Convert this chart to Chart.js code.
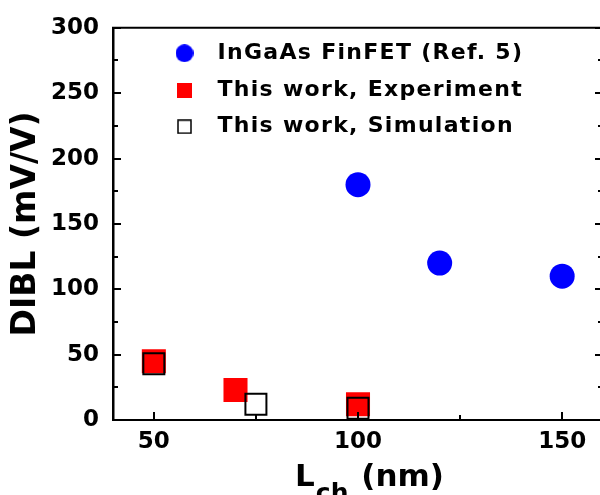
<!DOCTYPE html>
<html>
<head>
<meta charset="utf-8">
<script src="https://cdn.jsdelivr.net/npm/chart.js@4.4.1/dist/chart.umd.min.js"></script>
<style>
  html, body { margin: 0; padding: 0; background: #fff; overflow: hidden; }
  #wrap { width: 600px; height: 495px; overflow: hidden; }
  #wrap canvas { display: block; }
</style>
</head>
<body>
<div id="wrap"><canvas id="diblChart" width="620" height="495"></canvas></div>
<script>
// --- Data ---
const refLch = [100, 120, 150];
const refDibl = [180, 120, 110];
const expLch = [50, 70, 100];
const expDibl = [45, 23, 12];
const simLch = [50, 75, 100];
const simDibl = [43, 12, 9];
const seriesLabels = ['InGaAs FinFET (Ref. 5)', 'This work, Experiment', 'This work, Simulation'];

// Tick values (majors get a label, minors only a short tick)
const xTickValues = [50, 75, 100, 125, 150];
const yTickValues = [0, 25, 50, 75, 100, 125, 150, 175, 200, 225, 250, 275, 300];
const xMajorStep = 50;
const yMajorStep = 50;
const xTitleMain = 'L';
const xTitleSub = 'ch';
const xTitleUnit = ' (nm)';
const yTitle = 'DIBL (mV/V)';

const FONT = '"DejaVu Sans"';

function toPoints(xs, ys) {
    return xs.map((v, i) => ({ x: v, y: ys[i] }));
}

// small canvases used as legend markers (drawn at their own size)
function markerCanvas(size, draw) {
    const c = document.createElement('canvas');
    c.width = size; c.height = size;
    draw(c.getContext('2d'), size);
    return c;
}
const legendMarkers = [
    markerCanvas(18, (g, s) => { g.fillStyle = '#0000ff'; g.beginPath(); g.arc(s / 2, s / 2, s / 2, 0, Math.PI * 2); g.fill(); }),
    markerCanvas(15, (g, s) => { g.fillStyle = '#ff0000'; g.fillRect(0, 0, s, s); }),
    markerCanvas(15, (g, s) => { g.fillStyle = '#fff'; g.fillRect(0, 0, s, s); g.strokeStyle = '#000'; g.lineWidth = 1.5; g.strokeRect(1, 1, s - 2, s - 2); })
];

// --- Plugins ---
// move the legend to its spot inside the plot, and space its letters out
const legendTweak = {
    id: 'legendTweak',
    afterInit(chart) {
        const lg = chart.legend;
        const origDraw = lg.draw;
        lg.draw = function (area) {
            const ctx = this.ctx;
            ctx.save();
            ctx.letterSpacing = '1.3px';
            origDraw.call(this, area);
            ctx.restore();
        };
    },
    afterLayout(chart) {
        const lg = chart.legend;
        const dx = 34.75, dy = 27.5;
        lg.left += dx; lg.right += dx;
        lg.top += dy; lg.bottom += dy;
    }
};

// top/right frame and inward tick marks
const frameAndTicks = {
    id: 'frameAndTicks',
    afterDatasetsDraw(chart) {
        const { ctx, chartArea: a, scales: { x, y } } = chart;
        ctx.save();
        ctx.strokeStyle = '#000';
        ctx.lineWidth = 2;
        ctx.beginPath();
        ctx.moveTo(a.left - 1, a.top);
        ctx.lineTo(a.right, a.top);
        ctx.lineTo(a.right, a.bottom);
        ctx.stroke();

        ctx.beginPath();
        xTickValues.forEach(v => {
            const px = Math.round(x.getPixelForValue(v));
            const len = v % xMajorStep === 0 ? 8 : 5;
            ctx.moveTo(px, a.bottom);
            ctx.lineTo(px, a.bottom - len);
        });
        yTickValues.forEach(v => {
            const py = Math.round(y.getPixelForValue(v));
            const len = v % yMajorStep === 0 ? 8 : 5;
            ctx.moveTo(a.left, py);
            ctx.lineTo(a.left + len, py);
            ctx.moveTo(a.right, py);
            ctx.lineTo(a.right - len, py);
        });
        ctx.stroke();
        ctx.restore();
    }
};

// x-axis title with a subscript
const xTitlePlugin = {
    id: 'xTitlePlugin',
    afterDraw(chart) {
        const { ctx } = chart;
        const xs = chart.scales.x;
        const mainFont = 'bold 31px ' + FONT;
        const subFont = 'bold 25px ' + FONT;
        ctx.save();
        ctx.fillStyle = '#000';
        ctx.textAlign = 'left';
        ctx.textBaseline = 'alphabetic';
        ctx.font = mainFont;
        const wMain = ctx.measureText(xTitleMain).width;
        const wUnit = ctx.measureText(xTitleUnit).width;
        ctx.font = subFont;
        const wSub = ctx.measureText(xTitleSub).width;
        const total = wMain + wSub + wUnit;
        const baseY = xs.top + 66;
        let cx = (xs.left + xs.right) / 2 + 10 - total / 2;
        ctx.font = mainFont;
        ctx.fillText(xTitleMain, cx, baseY);
        cx += wMain + 1;
        ctx.font = subFont;
        ctx.fillText(xTitleSub, cx, baseY + 15);
        cx += wSub + 2;
        ctx.font = mainFont;
        ctx.fillText(xTitleUnit, cx, baseY);
        ctx.restore();
    }
};

// --- Chart ---
const tickFont = { family: FONT, size: 23, weight: 'bold' };

const ctx = document.getElementById('diblChart').getContext('2d');
const myChart = new Chart(ctx, {
    type: 'scatter',
    data: {
        datasets: [{
            label: seriesLabels[0],
            data: toPoints(refLch, refDibl),
            pointStyle: 'circle',
            pointRadius: 12.5,
            pointHoverRadius: 12.5,
            backgroundColor: '#0000ff',
            borderColor: '#0000ff',
            borderWidth: 0,
            order: 2
        }, {
            label: seriesLabels[1],
            data: toPoints(expLch, expDibl),
            pointStyle: 'rect',
            pointRadius: 17,
            pointHoverRadius: 17,
            backgroundColor: '#ff0000',
            borderColor: '#ff0000',
            borderWidth: 0,
            order: 1
        }, {
            label: seriesLabels[2],
            data: toPoints(simLch, simDibl),
            pointStyle: 'rect',
            pointRadius: 14.85,
            pointHoverRadius: 14.85,
            backgroundColor: 'rgba(0,0,0,0)',
            borderColor: '#000000',
            borderWidth: 2,
            order: 0
        }]
    },
    options: {
        responsive: false,
        animation: false,
        events: [],
        layout: { padding: { left: 0, top: 24, right: 17, bottom: 0 } },
        scales: {
            x: {
                type: 'linear',
                position: 'bottom',
                min: 40, max: 160,
                afterBuildTicks: s => { s.ticks = xTickValues.map(v => ({ value: v })); },
                afterFit: s => { s.height = 75; },
                grid: { display: false, drawTicks: false },
                border: { display: true, color: '#000', width: 2 },
                ticks: {
                    autoSkip: false, maxRotation: 0, padding: 8,
                    color: '#000', font: tickFont,
                    callback: v => (v % xMajorStep === 0 ? String(v) : '')
                }
            },
            y: {
                type: 'linear',
                min: 0, max: 300,
                afterBuildTicks: s => { s.ticks = yTickValues.map(v => ({ value: v })); },
                afterFit: s => { s.width = 113; },
                grid: { display: false, drawTicks: false },
                border: { display: true, color: '#000', width: 2.5 },
                ticks: {
                    autoSkip: false, padding: 14,
                    color: '#000', font: tickFont,
                    callback: v => (v % yMajorStep === 0 ? String(v) : '')
                },
                title: {
                    display: true, text: yTitle, color: '#000',
                    font: { family: FONT, size: 33, weight: 'bold' },
                    padding: { top: 7, bottom: 0 }
                }
            }
        },
        plugins: {
            legend: {
                display: true,
                position: 'chartArea',
                align: 'start',
                labels: {
                    usePointStyle: true,
                    pointStyleWidth: 44,
                    boxHeight: 22,
                    padding: 14.75,
                    color: '#000',
                    font: { family: FONT, size: 22, weight: 'bold' },
                    generateLabels(chart) {
                        const items = Chart.defaults.plugins.legend.labels.generateLabels(chart);
                        items.forEach(it => { it.pointStyle = legendMarkers[it.datasetIndex]; });
                        return items;
                    },
                    sort: (a, b) => a.datasetIndex - b.datasetIndex
                }
            },
            tooltip: { enabled: false }
        }
    },
    plugins: [legendTweak, frameAndTicks, xTitlePlugin]
});
</script>
</body>
</html>
